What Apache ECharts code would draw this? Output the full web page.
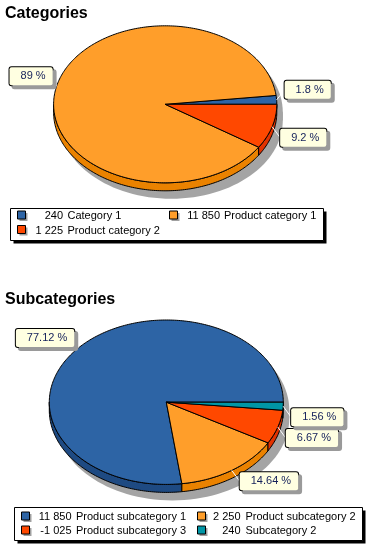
<!DOCTYPE html>
<html><head><meta charset="utf-8">
<script src="https://cdn.jsdelivr.net/npm/echarts@6/dist/echarts.min.js"></script>
<style>html,body{margin:0;padding:0;background:#fff}#c{width:369px;height:550px}</style>
</head><body><div id="c"></div>
<script>
// ---- data ----
const catTitle = 'Categories';
const catNames = ['Category 1', 'Product category 1', 'Product category 2'];
const catValues = [240, 11850, 1225];
const catLegendNumbers = ['240', '11 850', '1 225'];

const subTitle = 'Subcategories';
const subNames = ['Product subcategory 1', 'Product subcategory 2', 'Product subcategory 3', 'Subcategory 2'];
const subValues = [11850, 2250, -1025, 240];
const subLegendNumbers = ['11 850', '2 250', '-1 025', '240'];

// ---- styles ----
const FONT = '"Liberation Sans", Arial, sans-serif';
const catColors = ['#2D64A5', '#FF9E2A', '#FF4800'];
const catSides = ['#1E4A82', '#EA8200', '#E23200'];
const subColors = ['#2D64A5', '#FF9E2A', '#FF4800', '#0096A6'];
const subSides = ['#1E4A82', '#EA8200', '#E23200', '#00707C'];

const geo1 = { cx: 165.2, cy: 104.3, rx: 111.6, ry: 78.5, depth: 8, sdx: 6, sdy: 8 };
const geo2 = { cx: 166.3, cy: 402.2, rx: 117, ry: 82.2, depth: 8, sdx: 6, sdy: 8 };

function pctText(v, total) {
  return String(parseFloat((v / total * 100).toFixed(2))) + ' %';
}

function arcPoints(g, a0, a1, dy) {
  const pts = [];
  const n = Math.max(2, Math.ceil(Math.abs(a1 - a0)));
  for (let k = 0; k <= n; k++) {
    const a = (a0 + (a1 - a0) * k / n) * Math.PI / 180;
    pts.push([g.cx + g.rx * Math.cos(a), g.cy - g.ry * Math.sin(a) + dy]);
  }
  return pts;
}

function makePie(values, names, colors, sides, g) {
  const absV = values.map(Math.abs);
  const total = absV.reduce((a, b) => a + b, 0);
  return {
    type: 'custom',
    coordinateSystem: 'none',
    silent: true,
    animation: false,
    data: absV.map((v, i) => ({ name: names[i], value: [v] })),
    renderItem: function (params, api) {
      const i = params.dataIndex;
      const v = api.value(0);
      let cum = 0;
      for (let k = 0; k < i; k++) cum += absV[k];
      const a0 = cum / total * 360, a1 = (cum + v) / total * 360;
      const children = [];
      if (i === 0) {
        children.push({ type: 'ellipse', z2: 0, shape: { cx: g.cx + g.sdx, cy: g.cy + g.sdy, rx: g.rx, ry: g.ry }, style: { fill: '#A4A4A4' } });
        children.push({ type: 'ellipse', z2: 0, shape: { cx: g.cx + g.sdx, cy: g.cy + g.sdy + g.depth, rx: g.rx, ry: g.ry }, style: { fill: '#A4A4A4' } });
        children.push({ type: 'rect', z2: 0, shape: { x: g.cx + g.sdx - g.rx, y: g.cy + g.sdy, width: 2 * g.rx, height: g.depth }, style: { fill: '#A4A4A4' } });
      }
      const lo = Math.max(a0, 180), hi = Math.min(a1, 360);
      if (hi > lo) {
        const top = arcPoints(g, lo, hi, 0);
        const bot = arcPoints(g, hi, lo, g.depth);
        children.push({ type: 'polygon', z2: 2, shape: { points: top.concat(bot) }, style: { fill: sides[i], stroke: '#000', lineWidth: 1 } });
      }
      const pts = [[g.cx, g.cy]].concat(arcPoints(g, a0, a1, 0));
      children.push({ type: 'polygon', z2: 5, shape: { points: pts }, style: { fill: colors[i], stroke: '#000', lineWidth: 1, lineJoin: 'miter' } });
      const m = (a0 + a1) / 2 * Math.PI / 180;
      const c = Math.cos(m), s = Math.sin(m);
      const ex = g.cx + g.rx * c, ey = g.cy - g.ry * s;
      const right = c >= 0;
      const lx = right ? ex + 8 : ex - 4;
      const ly = ey + (s > 0 ? -10 : 11);
      children.push({ type: 'line', z2: 8, shape: { x1: ex, y1: ey, x2: lx, y2: ly }, style: { stroke: '#fff', lineWidth: 1 } });
      children.push({
        type: 'text', z2: 10, x: lx, y: ly,
        style: {
          text: pctText(v, total),
          fill: '#14205A',
          fontSize: 11, fontFamily: FONT,
          align: right ? 'left' : 'right', verticalAlign: 'middle',
          backgroundColor: '#FFFFE1', borderColor: '#000', borderWidth: 1, borderRadius: 2,
          padding: [4, 7, 3, 11],
          shadowColor: '#9A9A9A', shadowBlur: 0, shadowOffsetX: 3, shadowOffsetY: 3
        }
      });
      return { type: 'group', children: children };
    }
  };
}

function makeLegend(names, numbers, colors, L) {
  const els = [];
  els.push({ type: 'rect', z: 1, shape: { x: L.x + 3, y: L.y + 3, width: L.w, height: L.h }, style: { fill: '#000' } });
  els.push({ type: 'rect', z: 2, shape: { x: L.x, y: L.y, width: L.w, height: L.h }, style: { fill: '#fff', stroke: '#000', lineWidth: 1 } });
  names.forEach((nm, i) => {
    const row = Math.floor(i / 2), col = i % 2;
    const y = L.rows[row], C = L.cols[col];
    els.push({ type: 'rect', z: 3, shape: { x: C.marker + 2, y: y - 3, width: 8, height: 8 }, style: { fill: '#A0A0A0' } });
    els.push({ type: 'rect', z: 4, shape: { x: C.marker, y: y - 5, width: 8, height: 8 }, style: { fill: colors[i], stroke: '#000', lineWidth: 1 } });
    els.push({ type: 'text', z: 4, x: C.numRight, y: y, style: { text: numbers[i], fill: '#000', fontSize: 11, fontFamily: FONT, align: 'right', verticalAlign: 'middle' } });
    els.push({ type: 'text', z: 4, x: C.nameLeft, y: y, style: { text: nm, fill: '#000', fontSize: 11, fontFamily: FONT, align: 'left', verticalAlign: 'middle' } });
  });
  return els;
}

const legend1 = { x: 10.5, y: 208.5, w: 313, h: 32, rows: [216, 230.5], cols: [{ marker: 17.5, numRight: 63, nameLeft: 67.5 }, { marker: 169.5, numRight: 220, nameLeft: 224 }] };
const legend2 = { x: 14.5, y: 507.5, w: 348, h: 33, rows: [517, 531], cols: [{ marker: 21.5, numRight: 71.5, nameLeft: 76 }, { marker: 197.5, numRight: 240.5, nameLeft: 245.5 }] };

const chart = echarts.init(document.getElementById('c'), null, { renderer: 'canvas' });
chart.setOption({
  backgroundColor: '#fff',
  animation: false,
  title: [
    { text: catTitle, left: 5, top: 6, padding: 0, textStyle: { fontSize: 16, fontWeight: 'bold', fontFamily: FONT, color: '#000' } },
    { text: subTitle, left: 5, top: 292, padding: 0, textStyle: { fontSize: 16, fontWeight: 'bold', fontFamily: FONT, color: '#000' } }
  ],
  graphic: makeLegend(catNames, catLegendNumbers, catColors, legend1).concat(makeLegend(subNames, subLegendNumbers, subColors, legend2)),
  series: [
    makePie(catValues, catNames, catColors, catSides, geo1),
    makePie(subValues, subNames, subColors, subSides, geo2)
  ]
});
</script>
</body></html>
